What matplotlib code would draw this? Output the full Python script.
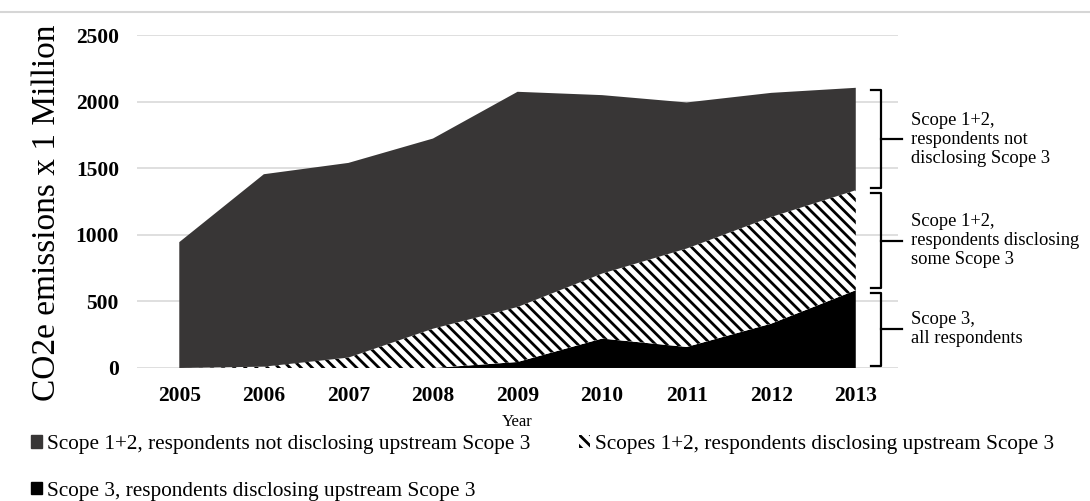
import matplotlib
matplotlib.use("Agg")
import matplotlib.pyplot as plt
from matplotlib.patches import Patch
from matplotlib.lines import Line2D
import numpy as np

# data (CO2e, millions)
years = [2005, 2006, 2007, 2008, 2009, 2010, 2011, 2012, 2013]
scope3_all = [0, 0, 0, 0, 45, 221, 158, 333, 584]
s12_disclosing = [0, 10, 78, 295, 413, 488, 739, 801, 751]
s12_not_disclosing = [945, 1445, 1462, 1428, 1616, 1340, 1097, 932, 769]

legend_labels = ["Scope 1+2, respondents not disclosing upstream Scope 3",
                 "Scopes 1+2, respondents disclosing upstream Scope 3",
                 "Scope 3, respondents disclosing upstream Scope 3"]
bracket_labels = ["Scope 3,\nall respondents",
                  "Scope 1+2,\nrespondents disclosing\nsome Scope 3",
                  "Scope 1+2,\nrespondents not\ndisclosing Scope 3"]

plt.rcParams['font.family'] = ['Liberation Serif', 'DejaVu Serif']
plt.rcParams['hatch.linewidth'] = 2.0

dark = "#383636"

fig = plt.figure(figsize=(10.9, 5.01), dpi=100)
ax = fig.add_axes([0.1257, 0.2655, 0.6982, 0.6645])

polys = ax.stackplot(years, scope3_all, s12_disclosing, s12_not_disclosing,
                     colors=["black", "white", dark], linewidth=0, zorder=2)
polys[1].set_hatch("\\\\\\")
polys[1].set_edgecolor("black")
polys[1].set_linewidth(0)

ax.set_xlim(2004.5, 2013.5)
ax.set_ylim(0, 2500)
ax.set_yticks(np.arange(0, 2501, 500))
ax.set_xticks(years)
ax.grid(axis="y", color="#d9d9d9", linewidth=1.2, zorder=0)
for s in ax.spines.values():
    s.set_visible(False)
ax.tick_params(length=0, labelsize=15.5)
ax.tick_params(axis="y", pad=13)
ax.tick_params(axis="x", pad=13)
for lab in ax.get_xticklabels() + ax.get_yticklabels():
    lab.set_fontweight("bold")

ax.set_ylabel("CO2e emissions x 1 Million", fontsize=24)
ax.yaxis.set_label_coords(-0.098, 0.465)
ax.set_xlabel("Year", fontsize=12, labelpad=6)

# brackets on the right, spanning each layer at 2013
tr = matplotlib.transforms.blended_transform_factory(ax.transAxes, ax.transData)
base = 0
for val, lab in zip([scope3_all[-1], s12_disclosing[-1], s12_not_disclosing[-1]], bracket_labels):
    lo, hi = base + 15, base + val - 20
    mid = (lo + hi) / 2
    ax.add_line(Line2D([0.9645, 0.9775, 0.9775, 0.9645], [hi, hi, lo, lo],
                       transform=tr, color="black", lw=1.6, clip_on=False))
    ax.add_line(Line2D([0.9775, 1.005], [mid, mid], transform=tr,
                       color="black", lw=1.6, clip_on=False))
    ax.text(1.017, mid, lab, transform=tr, fontsize=13.3, va="center",
            ha="left", linespacing=1.15)
    base += val

handles = [Patch(facecolor=dark, edgecolor=dark),
           Patch(facecolor="white", edgecolor="black", hatch="\\\\\\", linewidth=0),
           Patch(facecolor="black", edgecolor="black")]
order = [0, 2, 1]
fig.legend([handles[i] for i in order], [legend_labels[i] for i in order],
           loc="upper left", bbox_to_anchor=(0.0284, 0.1317), ncol=2, frameon=False,
           prop={"family": ["Liberation Serif", "DejaVu Serif"], "size": 15.3},
           handlelength=0.5, handleheight=0.5, handletextpad=0.25,
           labelspacing=1.3, columnspacing=2.3, borderaxespad=0, borderpad=0)

fig.add_artist(Line2D([0.0, 1.0], [0.976, 0.976], color="#d6d6d6", lw=1.5))

fig.savefig("out.png", dpi=100)
